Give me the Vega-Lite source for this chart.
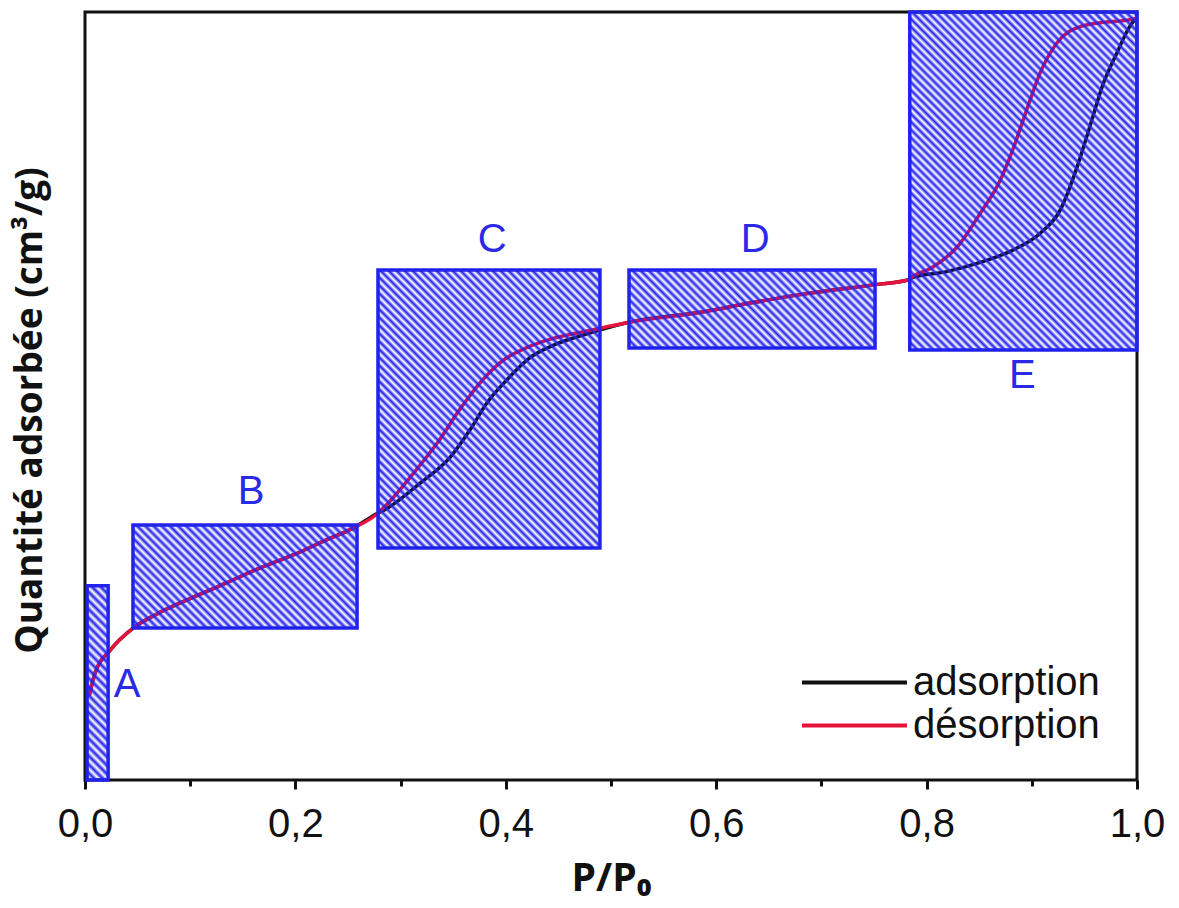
{
"$schema":"https://vega.github.io/schema/vega-lite/v6.json",
"width":1052,"height":768,"autosize":"none",
"padding":{"left":85,"top":12,"right":42,"bottom":128},
"background":"white",
"config":{"view":{"stroke":"#111","strokeWidth":3},"axis":{"grid":false},"axisY":{"labels":false,"ticks":false,"domain":false}},
"datasets":{
"curves":[
{"s":"adsorption","p":0.004,"q":11.0},{"s":"adsorption","p":0.0095,"q":13.9},{"s":"adsorption","p":0.024,"q":16.9},{"s":"adsorption","p":0.046,"q":19.8},{"s":"adsorption","p":0.071,"q":21.8},{"s":"adsorption","p":0.103,"q":23.8},{"s":"adsorption","p":0.135,"q":25.7},{"s":"adsorption","p":0.166,"q":27.6},{"s":"adsorption","p":0.198,"q":29.3},{"s":"adsorption","p":0.23,"q":31.3},{"s":"adsorption","p":0.255,"q":32.8},{"s":"adsorption","p":0.279,"q":34.8},
{"s":"adsorption","p":0.285,"q":35.2},{"s":"adsorption","p":0.318,"q":38.6},{"s":"adsorption","p":0.347,"q":42.0},{"s":"adsorption","p":0.366,"q":45.6},{"s":"adsorption","p":0.382,"q":49.1},{"s":"adsorption","p":0.401,"q":52.1},{"s":"adsorption","p":0.423,"q":55.0},{"s":"adsorption","p":0.445,"q":56.6},{"s":"adsorption","p":0.468,"q":57.7},{"s":"adsorption","p":0.489,"q":58.6},
{"s":"adsorption","p":0.517,"q":59.6},{"s":"adsorption","p":0.585,"q":60.9},{"s":"adsorption","p":0.632,"q":62.1},{"s":"adsorption","p":0.68,"q":63.2},{"s":"adsorption","p":0.751,"q":64.5},{"s":"adsorption","p":0.782,"q":65.1},
{"s":"adsorption","p":0.786,"q":65.4},{"s":"adsorption","p":0.819,"q":66.2},{"s":"adsorption","p":0.851,"q":67.4},{"s":"adsorption","p":0.882,"q":69.0},{"s":"adsorption","p":0.908,"q":71.2},{"s":"adsorption","p":0.927,"q":74.2},{"s":"adsorption","p":0.943,"q":79.8},{"s":"adsorption","p":0.955,"q":85.0},{"s":"adsorption","p":0.968,"q":90.7},{"s":"adsorption","p":0.981,"q":94.7},{"s":"adsorption","p":0.993,"q":98.1},{"s":"adsorption","p":0.999,"q":99.2},
{"s":"désorption","p":0.004,"q":11.0},{"s":"désorption","p":0.0095,"q":13.9},{"s":"désorption","p":0.024,"q":16.9},{"s":"désorption","p":0.046,"q":19.8},{"s":"désorption","p":0.071,"q":21.8},{"s":"désorption","p":0.103,"q":23.8},{"s":"désorption","p":0.135,"q":25.7},{"s":"désorption","p":0.166,"q":27.6},{"s":"désorption","p":0.198,"q":29.3},{"s":"désorption","p":0.23,"q":31.3},{"s":"désorption","p":0.255,"q":32.8},{"s":"désorption","p":0.279,"q":34.8},
{"s":"désorption","p":0.285,"q":35.6},{"s":"désorption","p":0.309,"q":39.4},{"s":"désorption","p":0.335,"q":43.9},{"s":"désorption","p":0.356,"q":48.2},{"s":"désorption","p":0.378,"q":52.1},{"s":"désorption","p":0.397,"q":54.6},{"s":"désorption","p":0.42,"q":56.3},{"s":"désorption","p":0.445,"q":57.5},{"s":"désorption","p":0.468,"q":58.2},{"s":"désorption","p":0.489,"q":58.8},
{"s":"désorption","p":0.517,"q":59.6},{"s":"désorption","p":0.585,"q":60.9},{"s":"désorption","p":0.632,"q":62.1},{"s":"désorption","p":0.68,"q":63.2},{"s":"désorption","p":0.751,"q":64.5},{"s":"désorption","p":0.782,"q":65.1},
{"s":"désorption","p":0.786,"q":65.5},{"s":"désorption","p":0.806,"q":66.8},{"s":"désorption","p":0.829,"q":69.4},{"s":"désorption","p":0.851,"q":73.8},{"s":"désorption","p":0.87,"q":78.1},{"s":"désorption","p":0.882,"q":82.1},{"s":"désorption","p":0.895,"q":87.2},{"s":"désorption","p":0.908,"q":92.1},{"s":"désorption","p":0.924,"q":96.0},{"s":"désorption","p":0.946,"q":98.1},{"s":"désorption","p":0.971,"q":98.7},{"s":"désorption","p":0.993,"q":99.0},{"s":"désorption","p":0.999,"q":99.2}
],
"boxes":[
{"b":"A","x0":0.002,"x1":0.022,"y0":0,"y1":25.3},
{"b":"B","x0":0.0456,"x1":0.2586,"y0":19.8,"y1":33.2},
{"b":"C","x0":0.2785,"x1":0.4895,"y0":30.2,"y1":66.4},
{"b":"D","x0":0.5171,"x1":0.751,"y0":56.25,"y1":66.4},
{"b":"E","x0":0.784,"x1":1.0,"y0":56.0,"y1":100}
],
"labels":[
{"t":"A","x":0.0399,"y":12.4},
{"t":"B","x":0.1578,"y":37.5},
{"t":"C","x":0.387,"y":70.3},
{"t":"D","x":0.637,"y":70.3},
{"t":"E","x":0.891,"y":52.6}
]
},
"resolve":{"axis":{"x":"independent"}},
"layer":[
{"data":{"name":"curves"},
"mark":{"type":"line","strokeWidth":3.5,"interpolate":"monotone"},
"encoding":{
"x":{"field":"p","type":"quantitative","scale":{"domain":[0,1],"nice":false,"zero":false},
"axis":{"values":[0,0.2,0.4,0.6,0.8,1],"format":".1f","labelExpr":"replace(datum.label,'.',',')","labelFont":"Liberation Sans","labelFontSize":40,"labelColor":"#111","labelPadding":15,"labelFlush":false,"labelOverlap":false,"tickSize":9,"tickWidth":3,"tickColor":"#111","domain":false,"orient":"bottom","title":"P/P₀","titleFont":"Open Sans","titleFontSize":39,"titleFontWeight":"bold","titleColor":"#111","titlePadding":15}},
"y":{"field":"q","type":"quantitative","scale":{"domain":[0,100],"nice":false,"zero":false},
"axis":{"title":"Quantité adsorbée (cm³/g)","titleFont":"Open Sans","titleFontSize":37,"titleFontWeight":"bold","titleColor":"#111","titlePadding":36,"titleY":398}},
"color":{"field":"s","type":"nominal","scale":{"domain":["adsorption","désorption"],"range":["#111111","#e8123c"]},
"legend":{"orient":"none","legendX":715,"legendY":649,"title":null,"symbolType":"stroke","symbolSize":11025,"symbolStrokeWidth":4,"labelFontSize":40,"labelFont":"Liberation Sans","labelColor":"#111","labelOffset":4,"rowPadding":0,"clipHeight":43,"labelLimit":400}}
}},
{"data":{"name":"boxes"},"transform":[{"filter":"datum.b=='A'"}],
"mark":{"type":"rect","stroke":"#22e","strokeWidth":3.5,"fill":{"gradient":"linear","x1":0,"y1":1,"x2":0.1186,"y2":-0.0955,"stops":[
{"offset":0,"color":"#22e"},{"offset":0.02,"color":"rgba(34,34,238,0)"},{"offset":0.04,"color":"#22e"},{"offset":0.06,"color":"rgba(34,34,238,0)"},{"offset":0.08,"color":"#22e"},{"offset":0.1,"color":"rgba(34,34,238,0)"},{"offset":0.12,"color":"#22e"},{"offset":0.14,"color":"rgba(34,34,238,0)"},{"offset":0.16,"color":"#22e"},{"offset":0.18,"color":"rgba(34,34,238,0)"},{"offset":0.2,"color":"#22e"},{"offset":0.22,"color":"rgba(34,34,238,0)"},{"offset":0.24,"color":"#22e"},{"offset":0.26,"color":"rgba(34,34,238,0)"},{"offset":0.28,"color":"#22e"},{"offset":0.3,"color":"rgba(34,34,238,0)"},{"offset":0.32,"color":"#22e"},{"offset":0.34,"color":"rgba(34,34,238,0)"},{"offset":0.36,"color":"#22e"},{"offset":0.38,"color":"rgba(34,34,238,0)"},{"offset":0.4,"color":"#22e"},{"offset":0.42,"color":"rgba(34,34,238,0)"},{"offset":0.44,"color":"#22e"},{"offset":0.46,"color":"rgba(34,34,238,0)"},{"offset":0.48,"color":"#22e"},{"offset":0.5,"color":"rgba(34,34,238,0)"},{"offset":0.52,"color":"#22e"},{"offset":0.54,"color":"rgba(34,34,238,0)"},{"offset":0.56,"color":"#22e"},{"offset":0.58,"color":"rgba(34,34,238,0)"},{"offset":0.6,"color":"#22e"},{"offset":0.62,"color":"rgba(34,34,238,0)"},{"offset":0.64,"color":"#22e"},{"offset":0.66,"color":"rgba(34,34,238,0)"},{"offset":0.68,"color":"#22e"},{"offset":0.7,"color":"rgba(34,34,238,0)"},{"offset":0.72,"color":"#22e"},{"offset":0.74,"color":"rgba(34,34,238,0)"},{"offset":0.76,"color":"#22e"},{"offset":0.78,"color":"rgba(34,34,238,0)"},{"offset":0.8,"color":"#22e"},{"offset":0.82,"color":"rgba(34,34,238,0)"},{"offset":0.84,"color":"#22e"},{"offset":0.86,"color":"rgba(34,34,238,0)"},{"offset":0.88,"color":"#22e"},{"offset":0.9,"color":"rgba(34,34,238,0)"},{"offset":0.92,"color":"#22e"},{"offset":0.94,"color":"rgba(34,34,238,0)"},{"offset":0.96,"color":"#22e"},{"offset":0.98,"color":"rgba(34,34,238,0)"},{"offset":1,"color":"#22e"}]}},
"encoding":{"x":{"field":"x0","type":"quantitative","axis":null,"scale":{"domain":[0,1],"nice":false,"zero":false}},"x2":{"field":"x1"},"y":{"field":"y0","type":"quantitative","title":"Quantité adsorbée (cm³/g)","scale":{"domain":[0,100],"nice":false,"zero":false}},"y2":{"field":"y1"}}},
{"data":{"name":"boxes"},"transform":[{"filter":"datum.b=='B'"}],
"mark":{"type":"rect","stroke":"#22e","strokeWidth":3.5,"fill":{"gradient":"linear","x1":0,"y1":1,"x2":1.205,"y2":0.446,"stops":[
{"offset":0,"color":"#22e"},{"offset":0.0125,"color":"rgba(34,34,238,0)"},{"offset":0.025,"color":"#22e"},{"offset":0.0375,"color":"rgba(34,34,238,0)"},{"offset":0.05,"color":"#22e"},{"offset":0.0625,"color":"rgba(34,34,238,0)"},{"offset":0.075,"color":"#22e"},{"offset":0.0875,"color":"rgba(34,34,238,0)"},{"offset":0.1,"color":"#22e"},{"offset":0.1125,"color":"rgba(34,34,238,0)"},{"offset":0.125,"color":"#22e"},{"offset":0.1375,"color":"rgba(34,34,238,0)"},{"offset":0.15,"color":"#22e"},{"offset":0.1625,"color":"rgba(34,34,238,0)"},{"offset":0.175,"color":"#22e"},{"offset":0.1875,"color":"rgba(34,34,238,0)"},{"offset":0.2,"color":"#22e"},{"offset":0.2125,"color":"rgba(34,34,238,0)"},{"offset":0.225,"color":"#22e"},{"offset":0.2375,"color":"rgba(34,34,238,0)"},{"offset":0.25,"color":"#22e"},{"offset":0.2625,"color":"rgba(34,34,238,0)"},{"offset":0.275,"color":"#22e"},{"offset":0.2875,"color":"rgba(34,34,238,0)"},{"offset":0.3,"color":"#22e"},{"offset":0.3125,"color":"rgba(34,34,238,0)"},{"offset":0.325,"color":"#22e"},{"offset":0.3375,"color":"rgba(34,34,238,0)"},{"offset":0.35,"color":"#22e"},{"offset":0.3625,"color":"rgba(34,34,238,0)"},{"offset":0.375,"color":"#22e"},{"offset":0.3875,"color":"rgba(34,34,238,0)"},{"offset":0.4,"color":"#22e"},{"offset":0.4125,"color":"rgba(34,34,238,0)"},{"offset":0.425,"color":"#22e"},{"offset":0.4375,"color":"rgba(34,34,238,0)"},{"offset":0.45,"color":"#22e"},{"offset":0.4625,"color":"rgba(34,34,238,0)"},{"offset":0.475,"color":"#22e"},{"offset":0.4875,"color":"rgba(34,34,238,0)"},{"offset":0.5,"color":"#22e"},{"offset":0.5125,"color":"rgba(34,34,238,0)"},{"offset":0.525,"color":"#22e"},{"offset":0.5375,"color":"rgba(34,34,238,0)"},{"offset":0.55,"color":"#22e"},{"offset":0.5625,"color":"rgba(34,34,238,0)"},{"offset":0.575,"color":"#22e"},{"offset":0.5875,"color":"rgba(34,34,238,0)"},{"offset":0.6,"color":"#22e"},{"offset":0.6125,"color":"rgba(34,34,238,0)"},{"offset":0.625,"color":"#22e"},{"offset":0.6375,"color":"rgba(34,34,238,0)"},{"offset":0.65,"color":"#22e"},{"offset":0.6625,"color":"rgba(34,34,238,0)"},{"offset":0.675,"color":"#22e"},{"offset":0.6875,"color":"rgba(34,34,238,0)"},{"offset":0.7,"color":"#22e"},{"offset":0.7125,"color":"rgba(34,34,238,0)"},{"offset":0.725,"color":"#22e"},{"offset":0.7375,"color":"rgba(34,34,238,0)"},{"offset":0.75,"color":"#22e"},{"offset":0.7625,"color":"rgba(34,34,238,0)"},{"offset":0.775,"color":"#22e"},{"offset":0.7875,"color":"rgba(34,34,238,0)"},{"offset":0.8,"color":"#22e"},{"offset":0.8125,"color":"rgba(34,34,238,0)"},{"offset":0.825,"color":"#22e"},{"offset":0.8375,"color":"rgba(34,34,238,0)"},{"offset":0.85,"color":"#22e"},{"offset":0.8625,"color":"rgba(34,34,238,0)"},{"offset":0.875,"color":"#22e"},{"offset":0.8875,"color":"rgba(34,34,238,0)"},{"offset":0.9,"color":"#22e"},{"offset":0.9125,"color":"rgba(34,34,238,0)"},{"offset":0.925,"color":"#22e"},{"offset":0.9375,"color":"rgba(34,34,238,0)"},{"offset":0.95,"color":"#22e"},{"offset":0.9625,"color":"rgba(34,34,238,0)"},{"offset":0.975,"color":"#22e"},{"offset":0.9875,"color":"rgba(34,34,238,0)"},{"offset":1,"color":"#22e"}]}},
"encoding":{"x":{"field":"x0","type":"quantitative","axis":null,"scale":{"domain":[0,1],"nice":false,"zero":false}},"x2":{"field":"x1"},"y":{"field":"y0","type":"quantitative","title":"Quantité adsorbée (cm³/g)","scale":{"domain":[0,100],"nice":false,"zero":false}},"y2":{"field":"y1"}}},
{"data":{"name":"boxes"},"transform":[{"filter":"datum.b=='C'"}],
"mark":{"type":"rect","stroke":"#22e","strokeWidth":3.5,"fill":{"gradient":"linear","x1":0,"y1":1,"x2":0.877,"y2":-0.098,"stops":[
{"offset":0,"color":"#22e"},{"offset":0.008,"color":"rgba(34,34,238,0)"},{"offset":0.016,"color":"#22e"},{"offset":0.024,"color":"rgba(34,34,238,0)"},{"offset":0.032,"color":"#22e"},{"offset":0.04,"color":"rgba(34,34,238,0)"},{"offset":0.048,"color":"#22e"},{"offset":0.056,"color":"rgba(34,34,238,0)"},{"offset":0.064,"color":"#22e"},{"offset":0.072,"color":"rgba(34,34,238,0)"},{"offset":0.08,"color":"#22e"},{"offset":0.088,"color":"rgba(34,34,238,0)"},{"offset":0.096,"color":"#22e"},{"offset":0.104,"color":"rgba(34,34,238,0)"},{"offset":0.112,"color":"#22e"},{"offset":0.12,"color":"rgba(34,34,238,0)"},{"offset":0.128,"color":"#22e"},{"offset":0.136,"color":"rgba(34,34,238,0)"},{"offset":0.144,"color":"#22e"},{"offset":0.152,"color":"rgba(34,34,238,0)"},{"offset":0.16,"color":"#22e"},{"offset":0.168,"color":"rgba(34,34,238,0)"},{"offset":0.176,"color":"#22e"},{"offset":0.184,"color":"rgba(34,34,238,0)"},{"offset":0.192,"color":"#22e"},{"offset":0.2,"color":"rgba(34,34,238,0)"},{"offset":0.208,"color":"#22e"},{"offset":0.216,"color":"rgba(34,34,238,0)"},{"offset":0.224,"color":"#22e"},{"offset":0.232,"color":"rgba(34,34,238,0)"},{"offset":0.24,"color":"#22e"},{"offset":0.248,"color":"rgba(34,34,238,0)"},{"offset":0.256,"color":"#22e"},{"offset":0.264,"color":"rgba(34,34,238,0)"},{"offset":0.272,"color":"#22e"},{"offset":0.28,"color":"rgba(34,34,238,0)"},{"offset":0.288,"color":"#22e"},{"offset":0.296,"color":"rgba(34,34,238,0)"},{"offset":0.304,"color":"#22e"},{"offset":0.312,"color":"rgba(34,34,238,0)"},{"offset":0.32,"color":"#22e"},{"offset":0.328,"color":"rgba(34,34,238,0)"},{"offset":0.336,"color":"#22e"},{"offset":0.344,"color":"rgba(34,34,238,0)"},{"offset":0.352,"color":"#22e"},{"offset":0.36,"color":"rgba(34,34,238,0)"},{"offset":0.368,"color":"#22e"},{"offset":0.376,"color":"rgba(34,34,238,0)"},{"offset":0.384,"color":"#22e"},{"offset":0.392,"color":"rgba(34,34,238,0)"},{"offset":0.4,"color":"#22e"},{"offset":0.408,"color":"rgba(34,34,238,0)"},{"offset":0.416,"color":"#22e"},{"offset":0.424,"color":"rgba(34,34,238,0)"},{"offset":0.432,"color":"#22e"},{"offset":0.44,"color":"rgba(34,34,238,0)"},{"offset":0.448,"color":"#22e"},{"offset":0.456,"color":"rgba(34,34,238,0)"},{"offset":0.464,"color":"#22e"},{"offset":0.472,"color":"rgba(34,34,238,0)"},{"offset":0.48,"color":"#22e"},{"offset":0.488,"color":"rgba(34,34,238,0)"},{"offset":0.496,"color":"#22e"},{"offset":0.504,"color":"rgba(34,34,238,0)"},{"offset":0.512,"color":"#22e"},{"offset":0.52,"color":"rgba(34,34,238,0)"},{"offset":0.528,"color":"#22e"},{"offset":0.536,"color":"rgba(34,34,238,0)"},{"offset":0.544,"color":"#22e"},{"offset":0.552,"color":"rgba(34,34,238,0)"},{"offset":0.56,"color":"#22e"},{"offset":0.568,"color":"rgba(34,34,238,0)"},{"offset":0.576,"color":"#22e"},{"offset":0.584,"color":"rgba(34,34,238,0)"},{"offset":0.592,"color":"#22e"},{"offset":0.6,"color":"rgba(34,34,238,0)"},{"offset":0.608,"color":"#22e"},{"offset":0.616,"color":"rgba(34,34,238,0)"},{"offset":0.624,"color":"#22e"},{"offset":0.632,"color":"rgba(34,34,238,0)"},{"offset":0.64,"color":"#22e"},{"offset":0.648,"color":"rgba(34,34,238,0)"},{"offset":0.656,"color":"#22e"},{"offset":0.664,"color":"rgba(34,34,238,0)"},{"offset":0.672,"color":"#22e"},{"offset":0.68,"color":"rgba(34,34,238,0)"},{"offset":0.688,"color":"#22e"},{"offset":0.696,"color":"rgba(34,34,238,0)"},{"offset":0.704,"color":"#22e"},{"offset":0.712,"color":"rgba(34,34,238,0)"},{"offset":0.72,"color":"#22e"},{"offset":0.728,"color":"rgba(34,34,238,0)"},{"offset":0.736,"color":"#22e"},{"offset":0.744,"color":"rgba(34,34,238,0)"},{"offset":0.752,"color":"#22e"},{"offset":0.76,"color":"rgba(34,34,238,0)"},{"offset":0.768,"color":"#22e"},{"offset":0.776,"color":"rgba(34,34,238,0)"},{"offset":0.784,"color":"#22e"},{"offset":0.792,"color":"rgba(34,34,238,0)"},{"offset":0.8,"color":"#22e"},{"offset":0.808,"color":"rgba(34,34,238,0)"},{"offset":0.816,"color":"#22e"},{"offset":0.824,"color":"rgba(34,34,238,0)"},{"offset":0.832,"color":"#22e"},{"offset":0.84,"color":"rgba(34,34,238,0)"},{"offset":0.848,"color":"#22e"},{"offset":0.856,"color":"rgba(34,34,238,0)"},{"offset":0.864,"color":"#22e"},{"offset":0.872,"color":"rgba(34,34,238,0)"},{"offset":0.88,"color":"#22e"},{"offset":0.888,"color":"rgba(34,34,238,0)"},{"offset":0.896,"color":"#22e"},{"offset":0.904,"color":"rgba(34,34,238,0)"},{"offset":0.912,"color":"#22e"},{"offset":0.92,"color":"rgba(34,34,238,0)"},{"offset":0.928,"color":"#22e"},{"offset":0.936,"color":"rgba(34,34,238,0)"},{"offset":0.944,"color":"#22e"},{"offset":0.952,"color":"rgba(34,34,238,0)"},{"offset":0.96,"color":"#22e"},{"offset":0.968,"color":"rgba(34,34,238,0)"},{"offset":0.976,"color":"#22e"},{"offset":0.984,"color":"rgba(34,34,238,0)"},{"offset":0.992,"color":"#22e"},{"offset":1,"color":"rgba(34,34,238,0)"}]}},
"encoding":{"x":{"field":"x0","type":"quantitative","axis":null,"scale":{"domain":[0,1],"nice":false,"zero":false}},"x2":{"field":"x1"},"y":{"field":"y0","type":"quantitative","title":"Quantité adsorbée (cm³/g)","scale":{"domain":[0,100],"nice":false,"zero":false}},"y2":{"field":"y1"}}},
{"data":{"name":"boxes"},"transform":[{"filter":"datum.b=='D'"}],
"mark":{"type":"rect","stroke":"#22e","strokeWidth":3.5,"fill":{"gradient":"linear","x1":0,"y1":1,"x2":1.197,"y2":0.6205,"stops":[
{"offset":0,"color":"#22e"},{"offset":0.0125,"color":"rgba(34,34,238,0)"},{"offset":0.025,"color":"#22e"},{"offset":0.0375,"color":"rgba(34,34,238,0)"},{"offset":0.05,"color":"#22e"},{"offset":0.0625,"color":"rgba(34,34,238,0)"},{"offset":0.075,"color":"#22e"},{"offset":0.0875,"color":"rgba(34,34,238,0)"},{"offset":0.1,"color":"#22e"},{"offset":0.1125,"color":"rgba(34,34,238,0)"},{"offset":0.125,"color":"#22e"},{"offset":0.1375,"color":"rgba(34,34,238,0)"},{"offset":0.15,"color":"#22e"},{"offset":0.1625,"color":"rgba(34,34,238,0)"},{"offset":0.175,"color":"#22e"},{"offset":0.1875,"color":"rgba(34,34,238,0)"},{"offset":0.2,"color":"#22e"},{"offset":0.2125,"color":"rgba(34,34,238,0)"},{"offset":0.225,"color":"#22e"},{"offset":0.2375,"color":"rgba(34,34,238,0)"},{"offset":0.25,"color":"#22e"},{"offset":0.2625,"color":"rgba(34,34,238,0)"},{"offset":0.275,"color":"#22e"},{"offset":0.2875,"color":"rgba(34,34,238,0)"},{"offset":0.3,"color":"#22e"},{"offset":0.3125,"color":"rgba(34,34,238,0)"},{"offset":0.325,"color":"#22e"},{"offset":0.3375,"color":"rgba(34,34,238,0)"},{"offset":0.35,"color":"#22e"},{"offset":0.3625,"color":"rgba(34,34,238,0)"},{"offset":0.375,"color":"#22e"},{"offset":0.3875,"color":"rgba(34,34,238,0)"},{"offset":0.4,"color":"#22e"},{"offset":0.4125,"color":"rgba(34,34,238,0)"},{"offset":0.425,"color":"#22e"},{"offset":0.4375,"color":"rgba(34,34,238,0)"},{"offset":0.45,"color":"#22e"},{"offset":0.4625,"color":"rgba(34,34,238,0)"},{"offset":0.475,"color":"#22e"},{"offset":0.4875,"color":"rgba(34,34,238,0)"},{"offset":0.5,"color":"#22e"},{"offset":0.5125,"color":"rgba(34,34,238,0)"},{"offset":0.525,"color":"#22e"},{"offset":0.5375,"color":"rgba(34,34,238,0)"},{"offset":0.55,"color":"#22e"},{"offset":0.5625,"color":"rgba(34,34,238,0)"},{"offset":0.575,"color":"#22e"},{"offset":0.5875,"color":"rgba(34,34,238,0)"},{"offset":0.6,"color":"#22e"},{"offset":0.6125,"color":"rgba(34,34,238,0)"},{"offset":0.625,"color":"#22e"},{"offset":0.6375,"color":"rgba(34,34,238,0)"},{"offset":0.65,"color":"#22e"},{"offset":0.6625,"color":"rgba(34,34,238,0)"},{"offset":0.675,"color":"#22e"},{"offset":0.6875,"color":"rgba(34,34,238,0)"},{"offset":0.7,"color":"#22e"},{"offset":0.7125,"color":"rgba(34,34,238,0)"},{"offset":0.725,"color":"#22e"},{"offset":0.7375,"color":"rgba(34,34,238,0)"},{"offset":0.75,"color":"#22e"},{"offset":0.7625,"color":"rgba(34,34,238,0)"},{"offset":0.775,"color":"#22e"},{"offset":0.7875,"color":"rgba(34,34,238,0)"},{"offset":0.8,"color":"#22e"},{"offset":0.8125,"color":"rgba(34,34,238,0)"},{"offset":0.825,"color":"#22e"},{"offset":0.8375,"color":"rgba(34,34,238,0)"},{"offset":0.85,"color":"#22e"},{"offset":0.8625,"color":"rgba(34,34,238,0)"},{"offset":0.875,"color":"#22e"},{"offset":0.8875,"color":"rgba(34,34,238,0)"},{"offset":0.9,"color":"#22e"},{"offset":0.9125,"color":"rgba(34,34,238,0)"},{"offset":0.925,"color":"#22e"},{"offset":0.9375,"color":"rgba(34,34,238,0)"},{"offset":0.95,"color":"#22e"},{"offset":0.9625,"color":"rgba(34,34,238,0)"},{"offset":0.975,"color":"#22e"},{"offset":0.9875,"color":"rgba(34,34,238,0)"},{"offset":1,"color":"#22e"}]}},
"encoding":{"x":{"field":"x0","type":"quantitative","axis":null,"scale":{"domain":[0,1],"nice":false,"zero":false}},"x2":{"field":"x1"},"y":{"field":"y0","type":"quantitative","title":"Quantité adsorbée (cm³/g)","scale":{"domain":[0,100],"nice":false,"zero":false}},"y2":{"field":"y1"}}},
{"data":{"name":"boxes"},"transform":[{"filter":"datum.b=='E'"}],
"mark":{"type":"rect","stroke":"#22e","strokeWidth":3.5,"fill":{"gradient":"linear","x1":0,"y1":1,"x2":0.7737,"y2":-0.152,"stops":[
{"offset":0,"color":"#22e"},{"offset":0.007,"color":"rgba(34,34,238,0)"},{"offset":0.014,"color":"#22e"},{"offset":0.021,"color":"rgba(34,34,238,0)"},{"offset":0.028,"color":"#22e"},{"offset":0.035,"color":"rgba(34,34,238,0)"},{"offset":0.042,"color":"#22e"},{"offset":0.049,"color":"rgba(34,34,238,0)"},{"offset":0.056,"color":"#22e"},{"offset":0.063,"color":"rgba(34,34,238,0)"},{"offset":0.07,"color":"#22e"},{"offset":0.077,"color":"rgba(34,34,238,0)"},{"offset":0.084,"color":"#22e"},{"offset":0.091,"color":"rgba(34,34,238,0)"},{"offset":0.098,"color":"#22e"},{"offset":0.105,"color":"rgba(34,34,238,0)"},{"offset":0.112,"color":"#22e"},{"offset":0.119,"color":"rgba(34,34,238,0)"},{"offset":0.126,"color":"#22e"},{"offset":0.133,"color":"rgba(34,34,238,0)"},{"offset":0.14,"color":"#22e"},{"offset":0.147,"color":"rgba(34,34,238,0)"},{"offset":0.154,"color":"#22e"},{"offset":0.161,"color":"rgba(34,34,238,0)"},{"offset":0.168,"color":"#22e"},{"offset":0.175,"color":"rgba(34,34,238,0)"},{"offset":0.182,"color":"#22e"},{"offset":0.189,"color":"rgba(34,34,238,0)"},{"offset":0.196,"color":"#22e"},{"offset":0.203,"color":"rgba(34,34,238,0)"},{"offset":0.21,"color":"#22e"},{"offset":0.217,"color":"rgba(34,34,238,0)"},{"offset":0.224,"color":"#22e"},{"offset":0.231,"color":"rgba(34,34,238,0)"},{"offset":0.238,"color":"#22e"},{"offset":0.245,"color":"rgba(34,34,238,0)"},{"offset":0.252,"color":"#22e"},{"offset":0.259,"color":"rgba(34,34,238,0)"},{"offset":0.266,"color":"#22e"},{"offset":0.273,"color":"rgba(34,34,238,0)"},{"offset":0.28,"color":"#22e"},{"offset":0.287,"color":"rgba(34,34,238,0)"},{"offset":0.294,"color":"#22e"},{"offset":0.301,"color":"rgba(34,34,238,0)"},{"offset":0.308,"color":"#22e"},{"offset":0.315,"color":"rgba(34,34,238,0)"},{"offset":0.322,"color":"#22e"},{"offset":0.329,"color":"rgba(34,34,238,0)"},{"offset":0.336,"color":"#22e"},{"offset":0.343,"color":"rgba(34,34,238,0)"},{"offset":0.35,"color":"#22e"},{"offset":0.357,"color":"rgba(34,34,238,0)"},{"offset":0.364,"color":"#22e"},{"offset":0.371,"color":"rgba(34,34,238,0)"},{"offset":0.378,"color":"#22e"},{"offset":0.385,"color":"rgba(34,34,238,0)"},{"offset":0.392,"color":"#22e"},{"offset":0.399,"color":"rgba(34,34,238,0)"},{"offset":0.406,"color":"#22e"},{"offset":0.413,"color":"rgba(34,34,238,0)"},{"offset":0.42,"color":"#22e"},{"offset":0.427,"color":"rgba(34,34,238,0)"},{"offset":0.434,"color":"#22e"},{"offset":0.441,"color":"rgba(34,34,238,0)"},{"offset":0.448,"color":"#22e"},{"offset":0.455,"color":"rgba(34,34,238,0)"},{"offset":0.462,"color":"#22e"},{"offset":0.469,"color":"rgba(34,34,238,0)"},{"offset":0.476,"color":"#22e"},{"offset":0.483,"color":"rgba(34,34,238,0)"},{"offset":0.49,"color":"#22e"},{"offset":0.497,"color":"rgba(34,34,238,0)"},{"offset":0.504,"color":"#22e"},{"offset":0.511,"color":"rgba(34,34,238,0)"},{"offset":0.518,"color":"#22e"},{"offset":0.525,"color":"rgba(34,34,238,0)"},{"offset":0.532,"color":"#22e"},{"offset":0.539,"color":"rgba(34,34,238,0)"},{"offset":0.546,"color":"#22e"},{"offset":0.553,"color":"rgba(34,34,238,0)"},{"offset":0.56,"color":"#22e"},{"offset":0.567,"color":"rgba(34,34,238,0)"},{"offset":0.574,"color":"#22e"},{"offset":0.581,"color":"rgba(34,34,238,0)"},{"offset":0.588,"color":"#22e"},{"offset":0.595,"color":"rgba(34,34,238,0)"},{"offset":0.602,"color":"#22e"},{"offset":0.609,"color":"rgba(34,34,238,0)"},{"offset":0.616,"color":"#22e"},{"offset":0.623,"color":"rgba(34,34,238,0)"},{"offset":0.63,"color":"#22e"},{"offset":0.637,"color":"rgba(34,34,238,0)"},{"offset":0.644,"color":"#22e"},{"offset":0.651,"color":"rgba(34,34,238,0)"},{"offset":0.658,"color":"#22e"},{"offset":0.665,"color":"rgba(34,34,238,0)"},{"offset":0.672,"color":"#22e"},{"offset":0.679,"color":"rgba(34,34,238,0)"},{"offset":0.686,"color":"#22e"},{"offset":0.693,"color":"rgba(34,34,238,0)"},{"offset":0.7,"color":"#22e"},{"offset":0.707,"color":"rgba(34,34,238,0)"},{"offset":0.714,"color":"#22e"},{"offset":0.721,"color":"rgba(34,34,238,0)"},{"offset":0.728,"color":"#22e"},{"offset":0.735,"color":"rgba(34,34,238,0)"},{"offset":0.742,"color":"#22e"},{"offset":0.749,"color":"rgba(34,34,238,0)"},{"offset":0.756,"color":"#22e"},{"offset":0.763,"color":"rgba(34,34,238,0)"},{"offset":0.77,"color":"#22e"},{"offset":0.777,"color":"rgba(34,34,238,0)"},{"offset":0.784,"color":"#22e"},{"offset":0.791,"color":"rgba(34,34,238,0)"},{"offset":0.798,"color":"#22e"},{"offset":0.805,"color":"rgba(34,34,238,0)"},{"offset":0.812,"color":"#22e"},{"offset":0.819,"color":"rgba(34,34,238,0)"},{"offset":0.826,"color":"#22e"},{"offset":0.833,"color":"rgba(34,34,238,0)"},{"offset":0.84,"color":"#22e"},{"offset":0.847,"color":"rgba(34,34,238,0)"},{"offset":0.854,"color":"#22e"},{"offset":0.861,"color":"rgba(34,34,238,0)"},{"offset":0.868,"color":"#22e"},{"offset":0.875,"color":"rgba(34,34,238,0)"},{"offset":0.882,"color":"#22e"},{"offset":0.889,"color":"rgba(34,34,238,0)"},{"offset":0.896,"color":"#22e"},{"offset":0.903,"color":"rgba(34,34,238,0)"},{"offset":0.91,"color":"#22e"},{"offset":0.917,"color":"rgba(34,34,238,0)"},{"offset":0.924,"color":"#22e"},{"offset":0.931,"color":"rgba(34,34,238,0)"},{"offset":0.938,"color":"#22e"},{"offset":0.945,"color":"rgba(34,34,238,0)"},{"offset":0.952,"color":"#22e"},{"offset":0.959,"color":"rgba(34,34,238,0)"},{"offset":0.966,"color":"#22e"},{"offset":0.973,"color":"rgba(34,34,238,0)"},{"offset":0.98,"color":"#22e"},{"offset":0.987,"color":"rgba(34,34,238,0)"},{"offset":0.994,"color":"#22e"}]}},
"encoding":{"x":{"field":"x0","type":"quantitative","axis":null,"scale":{"domain":[0,1],"nice":false,"zero":false}},"x2":{"field":"x1"},"y":{"field":"y0","type":"quantitative","title":"Quantité adsorbée (cm³/g)","scale":{"domain":[0,100],"nice":false,"zero":false}},"y2":{"field":"y1"}}},
{"data":{"name":"labels"},
"mark":{"type":"text","font":"Liberation Sans","fontSize":40,"color":"#2a2ae6","align":"center","baseline":"middle"},
"encoding":{"x":{"field":"x","type":"quantitative","scale":{"domain":[0,1],"nice":false,"zero":false},
"axis":{"values":[0.1,0.3,0.5,0.7,0.9],"labels":false,"domain":false,"title":null,"tickSize":6,"tickWidth":3,"tickColor":"#111","orient":"bottom"}},
"y":{"field":"y","type":"quantitative","title":"Quantité adsorbée (cm³/g)","scale":{"domain":[0,100],"nice":false,"zero":false}},
"text":{"field":"t"}}}
]
}
